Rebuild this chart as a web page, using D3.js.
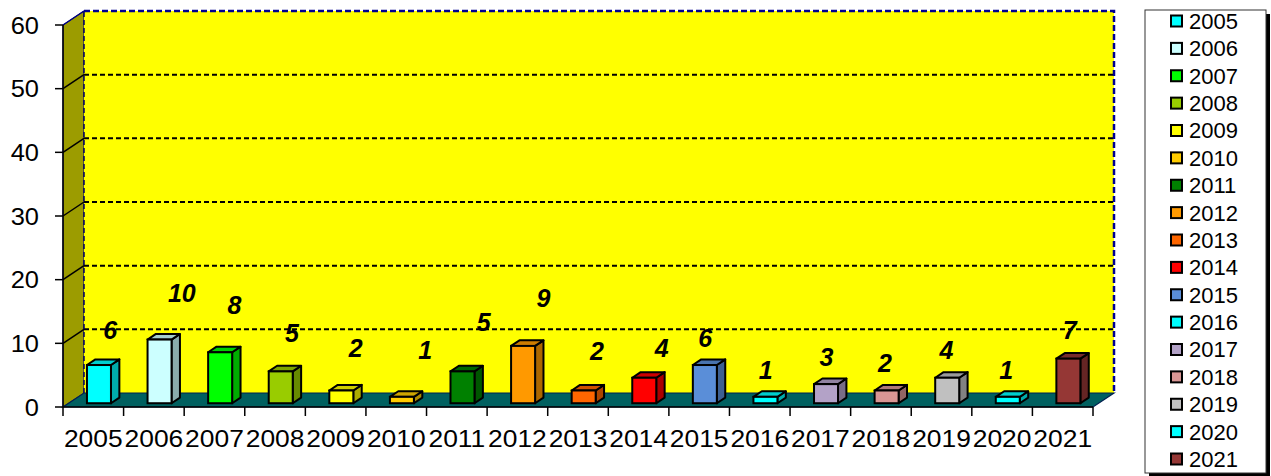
<!DOCTYPE html>
<html>
<head>
<meta charset="utf-8">
<script src="https://cdn.jsdelivr.net/npm/d3@7"></script>
<style>
  body { margin: 0; background: #fff; }
  svg text { font-family: "Liberation Sans", Arial, sans-serif; }
</style>
</head>
<body>
<div id="chart"></div>
<script>
// data
const years = ["2005","2006","2007","2008","2009","2010","2011","2012","2013",
               "2014","2015","2016","2017","2018","2019","2020","2021"];
const counts = [6, 10, 8, 5, 2, 1, 5, 9, 2, 4, 6, 1, 3, 2, 4, 1, 7];
const colors = ["#00FFFF","#CCFFFF","#00FF00","#99CC00","#FFFF00","#FFCC00","#008000",
                "#FF9900","#FF6600","#FF0000","#5A8ED8","#00FFFF","#B3A2C7","#D99694",
                "#C0C0C0","#00FFFF","#953735"];
const yTicks = [0, 10, 20, 30, 40, 50, 60];

// label placement nudges (the original has them scattered a bit)
const labelNudgeX = [17, 28, 20, 17, 20, 29, 27, 26, 19, 23, 6, 6, 6, 4, 5, 4, 7];
const labelLift   = [35, 47, 47, 38, 42, 47, 49, 48, 39, 30, 27, 27, 27, 27, 28, 27, 29];

const W = 1271, H = 476;
const DX = 21, DY = -14;      // depth of the 3D box
const t0 = 0.27, t1 = 0.67;   // bar depth position inside the box

const svg = d3.select("#chart").append("svg")
    .attr("width", W)
    .attr("height", H);

const x = d3.scaleBand().domain(years).range([63, 1093]).padding(0);
const y = d3.scaleLinear().domain([0, 60]).range([407, 25]);
const bw = x.bandwidth();
const barW = 24;

const x0 = x.range()[0], x1 = x.range()[1];
const yb = y(0), yt = y(60);

// left side wall
svg.append("path")
  .attr("d", `M${x0},${yb}L${x0},${yt}L${x0+DX},${yt+DY}L${x0+DX},${yb+DY}Z`)
  .attr("fill", "#9C9C00")
  .attr("stroke", "#000080")
  .attr("stroke-width", 1);

// back wall
svg.append("rect")
  .attr("x", x0 + DX).attr("y", yt + DY)
  .attr("width", x1 - x0).attr("height", yb - yt)
  .attr("fill", "#FFFF00");

// floor
svg.append("path")
  .attr("d", `M${x0},${yb}L${x1},${yb}L${x1+DX},${yb+DY}L${x0+DX},${yb+DY}Z`)
  .attr("fill", "#006060")
  .attr("stroke", "#002050")
  .attr("stroke-width", 1.2);

// gridlines
const grid = yTicks.filter(d => d > 0 && d < 60);
svg.selectAll("line.gback").data(grid).join("line")
  .attr("class", "gback")
  .attr("x1", x0 + DX).attr("x2", x1 + DX)
  .attr("y1", d => y(d) + DY).attr("y2", d => y(d) + DY)
  .attr("stroke", "#000").attr("stroke-width", 2)
  .attr("stroke-dasharray", "5,3");
svg.selectAll("line.gside").data(grid).join("line")
  .attr("class", "gside")
  .attr("x1", x0).attr("x2", x0 + DX)
  .attr("y1", d => y(d)).attr("y2", d => y(d) + DY)
  .attr("stroke", "#000").attr("stroke-width", 1.5);

// back wall borders (dashed navy)
svg.append("path")
  .attr("d", `M${x0+DX},${yb+DY}L${x0+DX},${yt+DY}`)
  .attr("fill", "none").attr("stroke", "#000060").attr("stroke-width", 1.5)
  .attr("stroke-dasharray", "5,3");
svg.append("path")
  .attr("d", `M${x0+DX},${yt+DY}L${x1+DX},${yt+DY}L${x1+DX},${yb+DY}`)
  .attr("fill", "none").attr("stroke", "#000090").attr("stroke-width", 2.5)
  .attr("stroke-dasharray", "6,3");
svg.append("path")
  .attr("d", `M${x0},${yt}L${x0+DX},${yt+DY}`)
  .attr("stroke", "#000080").attr("stroke-width", 1.5);

// bars as 3D boxes
const bars = svg.selectAll("g.bar")
  .data(years.map((yr, i) => ({ yr, v: counts[i], c: colors[i], i })))
  .join("g")
  .attr("class", "bar");

const bdx = DX * (t1 - t0), bdy = DY * (t1 - t0);
const geo = d => {
  const bx = x(d.yr) + (bw - barW) / 2 + DX * t0;
  const by0 = y(0) + DY * t0;
  const by1 = y(d.v) + DY * t0;
  return { bx, by0, by1 };
};

bars.append("path") // side
  .attr("d", d => {
    const g = geo(d), r = g.bx + barW;
    return `M${r},${g.by1}L${r+bdx},${g.by1+bdy}L${r+bdx},${g.by0+bdy}L${r},${g.by0}Z`;
  })
  .attr("fill", d => d3.color(d.c).darker(1.1))
  .attr("stroke", "#000").attr("stroke-width", 2).attr("stroke-linejoin", "round");

bars.append("path") // top
  .attr("d", d => {
    const g = geo(d);
    return `M${g.bx},${g.by1}L${g.bx+barW},${g.by1}L${g.bx+barW+bdx},${g.by1+bdy}L${g.bx+bdx},${g.by1+bdy}Z`;
  })
  .attr("fill", d => d3.color(d.c).darker(0.6))
  .attr("stroke", "#000").attr("stroke-width", 2).attr("stroke-linejoin", "round");

bars.append("rect") // front
  .attr("x", d => geo(d).bx)
  .attr("y", d => geo(d).by1)
  .attr("width", barW)
  .attr("height", d => geo(d).by0 - geo(d).by1)
  .attr("fill", d => d.c)
  .attr("stroke", "#000").attr("stroke-width", 2);

// value labels
bars.append("text")
  .attr("x", d => x(d.yr) + bw / 2 + labelNudgeX[d.i])
  .attr("y", d => y(d.v) + DY * t0 - labelLift[d.i])
  .attr("dy", "0.36em")
  .attr("text-anchor", "middle")
  .attr("font-size", 25)
  .attr("font-weight", "bold")
  .attr("font-style", "italic")
  .text(d => d.v);

// y axis
svg.append("line")
  .attr("x1", x0).attr("x2", x0).attr("y1", yt).attr("y2", yb)
  .attr("stroke", "#000").attr("stroke-width", 1.5);
svg.selectAll("line.ytick").data(yTicks).join("line")
  .attr("class", "ytick")
  .attr("x1", x0 - 8).attr("x2", x0)
  .attr("y1", d => y(d)).attr("y2", d => y(d))
  .attr("stroke", "#000").attr("stroke-width", 1.5);
svg.selectAll("text.ylab").data(yTicks).join("text")
  .attr("class", "ylab")
  .attr("transform", d => `translate(39,${y(d)}) scale(1.06,1)`)
  .attr("dy", "0.36em")
  .attr("text-anchor", "end")
  .attr("font-size", 24)
  .text(d => d);

// x axis
svg.append("line")
  .attr("x1", x0).attr("x2", x1).attr("y1", yb).attr("y2", yb)
  .attr("stroke", "#000").attr("stroke-width", 1.5);
const xTickPos = years.map(d => x(d)).concat([x1]);
svg.selectAll("line.xtick").data(xTickPos).join("line")
  .attr("class", "xtick")
  .attr("x1", d => d).attr("x2", d => d)
  .attr("y1", yb).attr("y2", yb + 9)
  .attr("stroke", "#000").attr("stroke-width", 1.5);
svg.selectAll("text.xlab").data(years).join("text")
  .attr("class", "xlab")
  .attr("transform", d => `translate(${x(d) + bw / 2},447) scale(1.1,1)`)
  .attr("text-anchor", "middle")
  .attr("font-size", 24)
  .text(d => d);

// legend
const lg = svg.append("g").attr("transform", "translate(1145,10)");
lg.append("rect")
  .attr("x", 4).attr("y", 4).attr("width", 121).attr("height", 463)
  .attr("fill", "#000");
lg.append("rect")
  .attr("x", 0).attr("y", 0).attr("width", 121).attr("height", 463)
  .attr("fill", "#fff").attr("stroke", "#333").attr("stroke-width", 1);

const rowY = d3.scalePoint().domain(years).range([11, 449]);
const items = lg.selectAll("g.item").data(years).join("g")
  .attr("class", "item")
  .attr("transform", d => `translate(0,${rowY(d)})`);
items.append("rect")
  .attr("x", 26).attr("y", -5.5).attr("width", 11).attr("height", 11)
  .attr("fill", (d, i) => colors[i])
  .attr("stroke", "#000").attr("stroke-width", 2);
items.append("text")
  .attr("x", 44).attr("dy", "0.36em")
  .attr("font-size", 22)
  .text(d => d);
</script>
</body>
</html>
